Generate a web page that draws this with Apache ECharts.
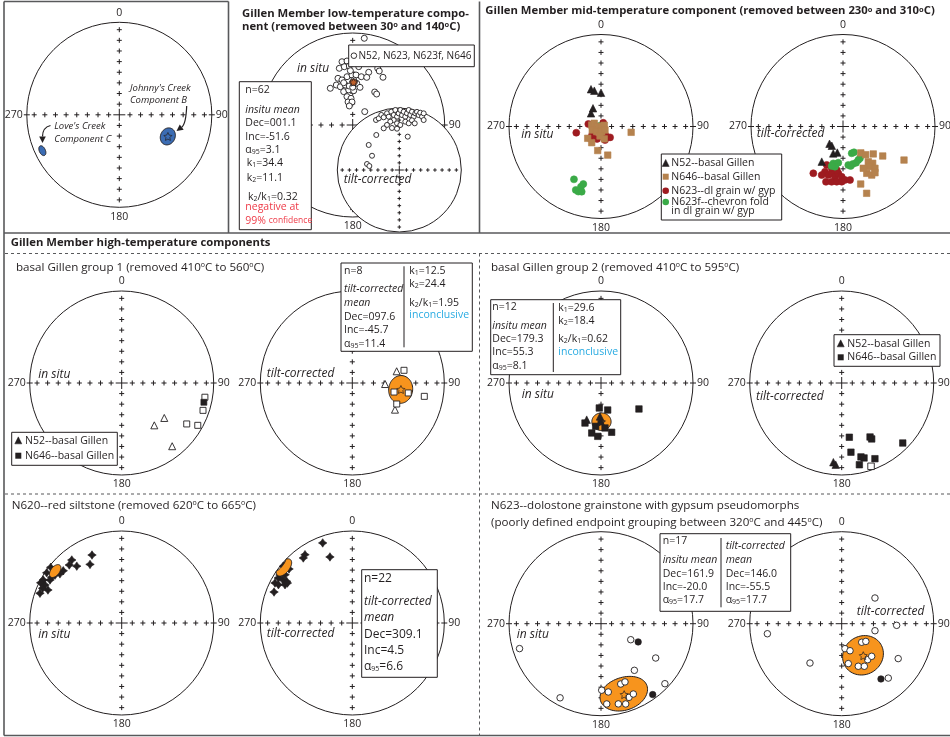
<!DOCTYPE html>
<html>
<head>
<meta charset="utf-8">
<script src="https://cdn.jsdelivr.net/npm/echarts@6/dist/echarts.min.js"></script>
<style>
  html, body { margin: 0; padding: 0; background: #fff; }
  #chart { width: 950px; height: 737px; }
</style>
</head>
<body>
<div id="chart"></div>
<script>
// ---------- Directions: [declination, inclination] (negative inclination = upper hemisphere) ----------

// Reference components
const johnnysCreekB = [114, 42, 7];      // dec, inc, a95
const lovesCreekC = [245, 9, 3.5];

// Low-temperature component
const lowTInSitu = [
  [7.6,-5.5],[350.4,-30.9],[354.9,-30.8],[346.7,-36.8],[351.8,-36.2],[356.7,-36.0],[3.9,-31.7],[5.9,-36.4],
  [16.9,-39.9],[23.8,-33.1],[26.2,-34.9],[342.5,-45.8],[346.6,-48.3],[353.3,-46.1],[359.2,-44.8],[3.8,-44.7],
  [10.1,-45.7],[16.4,-45.1],[32.4,-38.5],[328.6,-51.4],[337.7,-51.2],[342.1,-54],[349.5,-53.6],[5.5,-52.5],
  [11,-55.7],[344.9,-59.2],[353.5,-58.5],[1.7,-59.4],[33.7,-54.5],[37.7,-55],[348.6,-64.3],[356.4,-66.3],
  [348.6,-69.2],[358.3,-69.6],[349.9,-72.9],[42,-74.1],[357.5,-40.6],[1.3,-49.5],[348,-51.2],[355,-55],[0,-56.2]
];
const lowTTilt = [
  [335,-12],[338.3,-11.3],[341.9,-7.3],[343.5,-12.4],[347.8,-7.1],[348.8,-13.4],[352.2,-5.6],[354.2,-11.8],
  [356.2,-3.4],[357.5,-15],[359.4,-9.5],[1,-3.6],[2.8,-12.3],[4.3,-6.4],[6.4,-14.6],[7.7,-8.5],[8.9,-2.3],
  [11.3,-10.5],[12.3,-4.2],[15.1,-12],[15.8,-5.6],[16.9,-2.3],[19.4,-6.7],[20.1,-1.8],[23.1,-7.3],[23.3,-0.6],
  [353.6,-20],[357.2,-25.6],[349.4,-21.8],[344.7,-25.6],[339.5,-29],[7.1,-22.5],[11.4,-24.2],[14.3,-18.4],
  [1.3,-28.2],[18.3,-21.8],[26,-11.3],[350.1,-31.8],[356.8,-33.7],[326.7,-32.9],[14.2,-43.8],[309.3,-36.4],
  [297.6,-48.9],[280.5,-46],[277.6,-49.7]
];
const lowTInSituMean = [1.1, -51.6, 3.1];

// Mid-temperature component
const midInSituN52 = [[345,55.5],[349.4,57.5],[0,59.9],[336.3,72.4],[322.9,75.4]];
const midInSituN646 = [
  [279.2,81.7],[295.5,83.4],[266.5,87.1],[74,89.4],[70,86.9],[248.1,81.7],[219.6,84.1],[172.3,85.4],
  [131.2,85.3],[228.4,74.3],[209.9,73.5],[186,81.6],[165.2,78.7],[187.8,68.5],[166.8,63.9],[100.9,62.7]
];
const midInSituN623 = [[255.9,67.4],[281.1,78.6],[31.2,86.2],[140.2,77.5],[223,75.8],[163.5,77.5],[226.6,79.2],[152.2,80.5],[197.7,78.5]];
const midInSituN623f = [[207.1,35.7],[201.7,26.7],[199.2,26],[198.4,31.6],[197.1,34.9],[196.5,27],[238,85.8],[284,88.2]];
const midTiltN52 = [[218,70.6],[210.1,70.3],[199.9,64.6],[192.3,66.3],[211.2,53.2]];
const midTiltN646 = [
  [146,61.7],[141.2,57.7],[132.2,53.4],[126.6,45.3],[118.8,25.3],[144.3,51.1],[141.1,47.4],[146.8,46.7],
  [142.6,42.3],[153.1,42.4],[149.4,38.6],[145.3,38.8],[162.9,34.9],[160.5,24],[154.1,48.2]
];
const midTiltN623 = [
  [212.4,39.6],[203,52.6],[201.7,46.1],[196.9,44.2],[193.6,46.6],[189.1,44.1],[185.7,47.6],[181.5,44.6],
  [177.9,41.5],[172.5,41],[197.1,37.2],[191.6,38.6],[186.5,39.4],[181.3,39.8],[195.1,51.1],[188.2,50.5],[203.7,41.9]
];
const midTiltN623f = [
  [162,65],[156.9,65.1],[194.8,55.9],[190.6,55.9],[187.4,57.4],[191.3,53.3],[196,53.2],[172.2,55.2],
  [169,54],[165.5,55.3],[160.2,55.5],[155.5,57.1],[151.9,57.8]
];

// High-temperature, basal Gillen group 1
const grp1InSituN52 = [[142.4,-41.5],[129.4,-39.9],[141.4,-13.1]];
const grp1InSituN646 = [[122.2,-17.6],[119.1,-6],[108.6,-7.5],[99.7,-9.1],[103.2,9.1]];
const grp1TiltN52 = [[75.2,-48.7],[91.8,-60.8],[122,-44.5]];
const grp1TiltN646 = [[76.2,-41.7],[102.2,-51.7],[100.1,-38.2],[115.3,-45.6],[100.5,-21.5]];
const grp1TiltMean = [97.6, -45.7, 11.4];

// High-temperature, basal Gillen group 2
const grp2InSituN52 = [[201.3,54.8],[181.7,60.2],[180.8,56]];
const grp2InSituN646 = [[183.9,67.8],[166.1,65.3],[124.4,48.6],[201.8,51.3],[190.5,44],[183.5,41.5],[167.8,44.4],[174.9,49.4],[187,50.8]];
const grp2TiltN52 = [[186,14.5],[184.2,12]];
const grp2TiltN646 = [[172,40.2],[152.3,34.1],[151.8,31.6],[134.5,7.7],[172.4,25.1],[165.4,18.1],[163.4,16.1],[156.3,11.1],[167.8,10],[160.6,-4.5]];
const grp2InSituMean = [179.3, 55.3, 8.1];

// N620 red siltstone
const n620InSitu = [
  [336.4,20.5],[331.6,28.4],[321.6,13.7],[317.9,16.1],[321.7,22.3],[311.8,15.9],[308.1,2.2],[303.8,2.2],
  [298.7,3.2],[296.4,1.9],[296.4,7.7],[301,10],[303.1,10],[293.7,6.8],[290,6.1],[305.7,11.8],[294.1,13.2],[308.5,15.3]
];
const n620Tilt = [
  [339.7,8],[341.3,25.2],[325.3,10.6],[323,12.5],[309.4,3.3],[312.7,4.3],[306.2,5.5],[305.7,11],[301.3,6.5],
  [301.9,12],[302.4,16.6],[297.4,6],[297.4,10.5],[299.6,17],[301.6,18.3],[291.6,9.4],[303.6,6.3],[310.5,10.5]
];
const n620InSituMean = [308, 9, 5];
const n620TiltMean = [309.1, 4.5, 6.6];

// N623 dolostone grainstone
const n623InSitu = [
  [253,-8.2],[208.9,-8.8],[118.3,-59.9],[116.1,52.9],[122.1,-30.5],[144.4,-37.7],[133.2,-5.3],[179.4,-28.5],
  [173.9,-26.3],[175.9,-13.6],[161.9,-31.6],[157.6,-32.1],[159.2,-15.5],[155.3,-17],[167.8,-11.8],[162.9,-9.6],[143.9,5.2]
];
const n623Tilt = [
  [262.3,-19.6],[218.9,-44.3],[52.3,-52.3],[91.7,-40],[101.9,-59.7],[132.9,-65.8],[126.3,-63.4],[172.5,-67.7],
  [162.9,-64.9],[170.6,-53.8],[158.7,-48.9],[152,-46.5],[144.2,-50.1],[137.4,-50.2],[121.7,-28.6],[139.4,-23.2],[144.6,27.2]
];
const n623InSituMean = [161.9, -20.0, 17.7];
const n623TiltMean = [146.0, -55.5, 17.7];

// Axis labels around each net
const angleTicks = [0, 90, 180, 270];

// ---------- Styling ----------
const FONT = '"Open Sans", "Liberation Sans", sans-serif';
const INK = '#231f20';
const ORANGE = '#f7941d';
const BROWN = '#b5824e';
const DKRED = '#9e1b20';
const GREEN = '#3aaa47';
const BLUE = '#3b6cb3';
const CYAN = '#29abe2';
const RED = '#ee3b48';
const TICK_STEP = 0.115;
const STAR = 'path://M0,-10 L2.9,-4 L9.5,-3.1 L4.7,1.5 L5.9,8.1 L0,5 L-5.9,8.1 L-4.7,1.5 L-9.5,-3.1 L-2.9,-4 Z';
const SPARK = 'path://M0,-10 L4,-4 L10,0 L4,4 L0,10 L-4,4 L-10,0 L-4,-4 Z';

// Stereonet layout (equal-area, lower hemisphere)
const nets = [
  { id: 'A', c: [119.3, 114.8], R: 92.5 },
  { id: 'B', c: [352.7, 125], R: 92, hide: [0, 270] },
  { id: 'C', c: [399.3, 170], R: 62, hide: [0, 90, 180, 270], small: true },
  { id: 'D', c: [601, 126.5], R: 92 },
  { id: 'E', c: [843, 126.5], R: 92 },
  { id: 'F', c: [121.7, 383], R: 92 },
  { id: 'G', c: [352.3, 383], R: 92 },
  { id: 'H', c: [601, 383], R: 92 },
  { id: 'I', c: [841.7, 383], R: 92 },
  { id: 'J', c: [121.7, 623], R: 92 },
  { id: 'K', c: [352.3, 623], R: 92 },
  { id: 'L', c: [601, 623.7], R: 92, hide: [0] },
  { id: 'M', c: [841.7, 623.7], R: 92 }
];
const idx = {};
nets.forEach((n, i) => { idx[n.id] = i; });

const DEG = Math.PI / 180;
// Lambert equal-area radial distance, 1 at the primitive
const eqArea = inc => Math.SQRT2 * Math.sin((90 - Math.abs(inc)) * DEG / 2);

// Small circle of angular radius a around (dec, inc)
function smallCircle(dec, inc, a) {
  const D = dec * DEG, I = inc * DEG, A = a * DEG;
  const m = [Math.cos(I) * Math.cos(D), Math.cos(I) * Math.sin(D), Math.sin(I)];
  const u = [-Math.sin(I) * Math.cos(D), -Math.sin(I) * Math.sin(D), Math.cos(I)];
  const v = [-Math.sin(D), Math.cos(D), 0];
  const out = [];
  for (let k = 0; k < 72; k++) {
    const t = k * 5 * DEG;
    const p = [0, 1, 2].map(j => Math.cos(A) * m[j] + Math.sin(A) * (Math.cos(t) * u[j] + Math.sin(t) * v[j]));
    const ii = Math.asin(Math.max(-1, Math.min(1, p[2]))) / DEG;
    let dd = Math.atan2(p[1], p[0]) / DEG;
    if (dd < 0) dd += 360;
    out.push([dd, ii]);
  }
  return out;
}

function renderTick(params, api) {
  const p = api.coord([api.value(0), api.value(1)]);
  const s = api.value(2), mode = api.value(3);
  const st = { stroke: INK, lineWidth: 1 };
  const kids = [{ type: 'line', shape: { x1: p[0] - s, y1: p[1], x2: p[0] + s, y2: p[1] }, style: st }];
  if (mode === 0) kids.push({ type: 'line', shape: { x1: p[0], y1: p[1] - s, x2: p[0], y2: p[1] + s }, style: st });
  return { type: 'group', children: kids };
}

function renderCone(params, api) {
  const pts = smallCircle(api.value(1), api.value(2), api.value(3)).map(([d, i]) => api.coord([eqArea(i), d]));
  return { type: 'polygon', shape: { points: pts }, style: { fill: api.visual('color'), stroke: INK, lineWidth: 1 } };
}

function renderDisc(params, api) {
  const c = api.coord([0, 0]);
  const e = api.coord([1, 90]);
  return { type: 'circle', shape: { cx: c[0], cy: c[1], r: e[0] - c[0] }, style: { fill: '#fff', stroke: INK, lineWidth: 1 } };
}

const series = [];

function addTicks(id, z) {
  const n = nets[idx[id]];
  const s = n.small ? 1.8 : 2.5, cen = n.small ? 4.5 : 6;
  const d = [[0, 0, cen, 0]];
  angleTicks.forEach(a => {
    for (let k = 1; k <= 8; k++) d.push([k * TICK_STEP, a, s, 0]);
    if (!n.small && (a === 90 || a === 270)) d.push([1, a, 3, 1]);
  });
  series.push({ type: 'custom', coordinateSystem: 'polar', polarIndex: idx[id], renderItem: renderTick, data: d, z, silent: true });
}

function addPoints(id, arr, o) {
  series.push({
    type: 'scatter', coordinateSystem: 'polar', polarIndex: idx[id], symbol: o.symbol, symbolSize: o.size,
    z: o.z || 4, silent: true,
    itemStyle: { color: o.color, borderColor: o.stroke || o.color, borderWidth: o.bw == null ? 0.6 : o.bw, opacity: 1 },
    data: arr.map(([d, inc]) => ({
      value: [eqArea(inc), d],
      itemStyle: inc < 0 ? { color: '#fff', borderColor: INK, borderWidth: 0.9 } : undefined
    }))
  });
}

function addCone(id, mean, color, z) {
  series.push({
    type: 'custom', coordinateSystem: 'polar', polarIndex: idx[id], renderItem: renderCone, z: z || 3, silent: true,
    itemStyle: { color }, data: [[eqArea(mean[1]), mean[0], mean[1], mean[2]]]
  });
}

function addStar(id, mean, fill, z) {
  series.push({
    type: 'scatter', coordinateSystem: 'polar', polarIndex: idx[id], symbol: STAR, symbolSize: 8, z: z || 5, silent: true,
    itemStyle: { color: fill, borderColor: INK, borderWidth: 0.9 },
    data: [[eqArea(mean[1]), mean[0]]]
  });
}

// Panel: reference components
addTicks('A', 2);
addCone('A', johnnysCreekB, BLUE, 3);
addCone('A', lovesCreekC, BLUE, 3);
addStar('A', johnnysCreekB, 'rgba(0,0,0,0)', 5);

// Low-temperature: in situ underneath, tilt-corrected net laid over it
addTicks('B', 1);
addPoints('B', lowTInSitu, { symbol: 'circle', size: 6, color: INK, z: 2 });
addCone('B', lowTInSituMean, '#c0602a', 3);
addStar('B', lowTInSituMean, 'rgba(0,0,0,0)', 3.5);
series.push({ type: 'custom', coordinateSystem: 'polar', polarIndex: idx.C, renderItem: renderDisc, data: [[0, 0]], z: 5, silent: true });
addTicks('C', 6);
addPoints('C', lowTTilt, { symbol: 'circle', size: 5, color: INK, z: 7 });

// Mid-temperature
[['D', midInSituN623, midInSituN646, midInSituN623f, midInSituN52],
 ['E', midTiltN623, midTiltN646, midTiltN623f, midTiltN52]].forEach(([id, red, brown, green, tri]) => {
  addTicks(id, 2);
  addPoints(id, red, { symbol: 'circle', size: 7, color: DKRED, z: 4 });
  addPoints(id, green, { symbol: 'circle', size: 7, color: GREEN, z: 4.1 });
  addPoints(id, brown, { symbol: 'rect', size: 6.5, color: BROWN, z: 4.2 });
  addPoints(id, tri, { symbol: 'triangle', size: 7.5, color: INK, z: 4.3 });
});

// High-temperature group 1
addTicks('F', 2);
addPoints('F', grp1InSituN52, { symbol: 'triangle', size: 7, color: INK });
addPoints('F', grp1InSituN646, { symbol: 'rect', size: 6, color: INK });
addTicks('G', 2);
addCone('G', grp1TiltMean, ORANGE, 3);
addPoints('G', grp1TiltN52, { symbol: 'triangle', size: 7, color: INK });
addPoints('G', grp1TiltN646, { symbol: 'rect', size: 6, color: INK });
addStar('G', grp1TiltMean, 'rgba(0,0,0,0)', 5);

// High-temperature group 2
addTicks('H', 2);
addCone('H', grp2InSituMean, ORANGE, 3);
addPoints('H', grp2InSituN646, { symbol: 'rect', size: 6.5, color: INK });
addPoints('H', grp2InSituN52, { symbol: 'triangle', size: 7.5, color: INK });
addStar('H', grp2InSituMean, INK, 5);
addTicks('I', 2);
addPoints('I', grp2TiltN646, { symbol: 'rect', size: 6.5, color: INK });
addPoints('I', grp2TiltN52, { symbol: 'triangle', size: 7.5, color: INK });

// N620
addTicks('J', 2);
addPoints('J', n620InSitu, { symbol: SPARK, size: 8.5, color: INK });
addCone('J', n620InSituMean, ORANGE, 4.5);
addTicks('K', 2);
addPoints('K', n620Tilt, { symbol: SPARK, size: 8.5, color: INK });
addCone('K', n620TiltMean, ORANGE, 4.5);

// N623
addTicks('L', 2);
addCone('L', n623InSituMean, ORANGE, 3);
addPoints('L', n623InSitu, { symbol: 'circle', size: 6.5, color: INK });
addStar('L', n623InSituMean, 'rgba(0,0,0,0)', 5);
addTicks('M', 2);
addCone('M', n623TiltMean, ORANGE, 3);
addPoints('M', n623Tilt, { symbol: 'circle', size: 6.5, color: INK });
addStar('M', n623TiltMean, 'rgba(0,0,0,0)', 5);

// ---------- Text, boxes and frame ----------
const RICH = {
  sub: { fontFamily: FONT, fontSize: 7, verticalAlign: 'bottom', fill: INK },
  sup: { fontFamily: FONT, fontSize: 7, verticalAlign: 'top', fill: INK },
  supb: { fontFamily: FONT, fontSize: 7.5, fontWeight: 'bold', verticalAlign: 'top', fill: INK },
  smred: { fontFamily: FONT, fontSize: 8.5, fill: RED }
};
const T = (x, y, text, o) => ({
  type: 'text', x, y, z: 101, silent: true,
  style: Object.assign({ text, fontFamily: FONT, fontSize: 10.5, fill: INK, align: 'left', verticalAlign: 'middle', rich: RICH }, o || {})
});
const IT = (x, y, text, size) => T(x, y, text, { fontStyle: 'italic', fontSize: size || 12 });
const BOLD = (x, y, text) => T(x, y, text, { fontWeight: 'bold', fontSize: 11.3 });
const SUBT = (x, y, text) => T(x, y, text, { fontSize: 11.6 });
const BOX = (x, y, w, h) => ({ type: 'rect', z: 100, silent: true, shape: { x, y, width: w, height: h }, style: { fill: '#fff', stroke: INK, lineWidth: 1 } });
const LINE = (x1, y1, x2, y2, o) => ({ type: 'line', z: 102, silent: true, shape: { x1, y1, x2, y2 }, style: Object.assign({ stroke: INK, lineWidth: 1 }, o || {}) });
const TRI = (x, y, s, fill) => ({ type: 'polygon', z: 101, silent: true, shape: { points: [[x, y - s * 0.55], [x + s * 0.5, y + s * 0.45], [x - s * 0.5, y + s * 0.45]] }, style: { fill: fill || INK, stroke: INK, lineWidth: 0.5 } });
const SQ = (x, y, s, fill) => ({ type: 'rect', z: 101, silent: true, shape: { x: x - s / 2, y: y - s / 2, width: s, height: s }, style: { fill: fill || INK } });
const DOT = (x, y, r, fill, stroke) => ({ type: 'circle', z: 101, silent: true, shape: { cx: x, cy: y, r }, style: { fill, stroke: stroke || null, lineWidth: 0.9 } });

function arrow(x1, y1, cx, cy, x2, y2) {
  const dx = x2 - cx, dy = y2 - cy, L = Math.hypot(dx, dy);
  const ux = dx / L, uy = dy / L;
  const bx = x2 - ux * 6.5, by = y2 - uy * 6.5;
  return [
    { type: 'bezierCurve', z: 100, silent: true, shape: { x1, y1, cpx1: cx, cpy1: cy, x2: bx, y2: by }, style: { stroke: INK, lineWidth: 1.2, fill: null } },
    { type: 'polygon', z: 100, silent: true, shape: { points: [[x2, y2], [bx - uy * 3.3, by + ux * 3.3], [bx + uy * 3.3, by - ux * 3.3]] }, style: { fill: INK } }
  ];
}

const FRAME = '#58595b';
const dash = { stroke: FRAME, lineWidth: 1, lineDash: [3, 3] };
const solid = { stroke: FRAME, lineWidth: 1.6 };

const graphic = [
  // frame and panel rules
  LINE(4, 1.5, 228.5, 1.5, solid), LINE(4, 1.5, 4, 735.5, solid), LINE(4, 735.5, 950, 735.5, solid),
  LINE(228.5, 1.5, 228.5, 233, solid), LINE(479.5, 1.5, 479.5, 233, solid), LINE(4, 233, 950, 233, solid),
  LINE(5, 253.5, 950, 253.5, dash), LINE(479.5, 253.5, 479.5, 735, dash), LINE(5, 494, 950, 494, dash),

  // reference components
  IT(130, 88.3, "Johnny's Creek", 9.5), IT(130, 100, 'Component B', 9.5),
  IT(54.3, 126.7, "Love's Creek", 9.5), IT(54.3, 139.3, 'Component C', 9.5),
  ...arrow(186.7, 106, 186, 124, 176.5, 131),
  ...arrow(50.5, 125.5, 42.5, 127.5, 42.5, 143),

  // low-temperature panel
  BOLD(242, 13.3, 'Gillen Member low-temperature compo-'),
  BOLD(242, 26.7, 'nent (removed between 30{supb|o} and 140{supb|o}C)'),
  IT(297, 68.3, 'in situ'),
  BOX(348.7, 45, 125.6, 21.7), DOT(353.9, 55.7, 2.8, '#fff', INK), T(358.5, 55.7, 'N52, N623, N623f, N646', { fontSize: 10.1 }),
  BOX(239.3, 81.7, 72, 148),
  T(245.3, 90, 'n=62'), IT(245.3, 110, 'insitu mean', 10.5), T(245.3, 123.3, 'Dec=001.1'), T(245.3, 136.7, 'Inc=-51.6'),
  T(245.3, 150, '\u03b1{sub|95}=3.1'), T(246.7, 163.3, 'k{sub|1}=34.4'), T(246.7, 178.3, 'k{sub|2}=11.1'),
  T(248, 196.7, 'k{sub|2}/k{sub|1}=0.32'), T(245.3, 207, 'negative at', { fill: RED }), T(245.3, 220.7, '99% {smred|confidence}', { fill: RED }),
  IT(343.7, 180, 'tilt-corrected'),

  // mid-temperature panel
  BOLD(485.3, 11, 'Gillen Member mid-temperature component (removed between 230{supb|o} and 310{supb|o}C)'),
  IT(521.3, 135, 'in situ'), IT(756.7, 133.3, 'tilt-corrected'),
  BOX(661.3, 154, 120.4, 66),
  TRI(665.7, 163.3, 7), T(671.3, 163.3, 'N52--basal Gillen'),
  SQ(665.7, 176.7, 6, BROWN), T(671.3, 176.7, 'N646--basal Gillen'),
  DOT(665.7, 190.7, 3.3, DKRED), T(671.3, 190.7, 'N623--dl grain w/ gyp'),
  DOT(665.7, 202, 3.3, GREEN), T(671.3, 202, 'N623f--chevron fold'), T(671.3, 211.3, 'in dl grain w/ gyp'),

  // high-temperature header
  BOLD(10.7, 243, 'Gillen Member high-temperature components'),

  // group 1
  SUBT(16, 267.3, 'basal Gillen group 1 (removed 410{sup|o}C to 560{sup|o}C)'),
  IT(38.3, 374.7, 'in situ'),
  BOX(11.7, 432.3, 105.6, 33),
  TRI(18.3, 440.7, 7), T(25, 440.7, 'N52--basal Gillen'),
  SQ(18.3, 455.7, 6), T(25, 455.7, 'N646--basal Gillen'),
  IT(266.7, 373.7, 'tilt-corrected'),
  BOX(341, 263, 131.3, 88.3), LINE(404, 266.3, 404, 347.3),
  T(344, 270.7, 'n=8'), IT(344, 288.7, 'tilt-corrected', 10.5), IT(344, 302.7, 'mean', 10.5),
  T(344, 316.7, 'Dec=097.6'), T(344, 329.7, 'Inc=-45.7'), T(344, 343.7, '\u03b1{sub|95}=11.4'),
  T(409.3, 270.7, 'k{sub|1}=12.5'), T(409.3, 283.7, 'k{sub|2}=24.4'), T(409.3, 302.7, 'k{sub|2}/k{sub|1}=1.95'),
  T(409.3, 315.3, 'inconclusive', { fill: CYAN }),

  // group 2
  SUBT(491, 267.3, 'basal Gillen group 2 (removed 410{sup|o}C to 595{sup|o}C)'),
  IT(521.7, 394.7, 'in situ'),
  BOX(490.7, 299.7, 130, 75), LINE(553.3, 303, 553.3, 372),
  T(492.3, 307, 'n=12'), IT(492.3, 325.7, 'insitu mean', 10.5), T(492.3, 339, 'Dec=179.3'), T(492.3, 352.3, 'Inc=55.3'),
  T(492.3, 365.7, '\u03b1{sub|95}=8.1'),
  T(558.3, 308, 'k{sub|1}=29.6'), T(558.3, 320.7, 'k{sub|2}=18.4'), T(558.3, 338.7, 'k{sub|2}/k{sub|1}=0.62'),
  T(558.3, 352.3, 'inconclusive', { fill: CYAN }),
  IT(756, 397, 'tilt-corrected'),
  BOX(834, 334.7, 106, 31.6),
  TRI(840.7, 343.7, 7), T(847.3, 343.7, 'N52--basal Gillen'),
  SQ(840.7, 357.3, 6), T(847.3, 357.3, 'N646--basal Gillen'),

  // N620
  SUBT(11.7, 505.7, 'N620--red siltstone (removed 620{sup|o}C to 665{sup|o}C)'),
  IT(38.3, 634.7, 'in situ'), IT(266.7, 633.7, 'tilt-corrected'),
  BOX(361.7, 569.7, 75.6, 107.6),
  T(364, 578.7, 'n=22', { fontSize: 12 }), IT(364, 602, 'tilt-corrected', 12), IT(364, 617.3, 'mean', 12),
  T(364, 634.7, 'Dec=309.1', { fontSize: 12 }), T(364, 650.7, 'Inc=4.5', { fontSize: 12 }),
  T(364, 666.3, '\u03b1{sub|95}=6.6', { fontSize: 12 }),

  // N623
  SUBT(491, 505.3, 'N623--dolostone grainstone with gypsum pseudomorphs'),
  SUBT(491, 522.3, '(poorly defined endpoint grouping between 320{sup|o}C and 445{sup|o}C)'),
  IT(516.7, 634.7, 'in situ'), IT(856.7, 612, 'tilt-corrected'),
  BOX(660, 533.7, 130.7, 77.6), LINE(721, 538, 721, 607.3),
  T(662.7, 541.3, 'n=17'), IT(662.7, 560.3, 'insitu mean', 10.5), T(662.7, 573.7, 'Dec=161.9'), T(662.7, 587, 'Inc=-20.0'),
  T(662.7, 600.3, '\u03b1{sub|95}=17.7'),
  IT(725.7, 546.3, 'tilt-corrected', 10.5), IT(725.7, 560.3, 'mean', 10.5), T(725.7, 573.7, 'Dec=146.0'),
  T(725.7, 587, 'Inc=-55.5'), T(725.7, 600.3, '\u03b1{sub|95}=17.7')
];

const option = {
  animation: false,
  textStyle: { fontFamily: FONT },
  polar: nets.map(n => ({ center: n.c, radius: n.R })),
  angleAxis: nets.map((n, i) => ({
    polarIndex: i, type: 'value', min: 0, max: 360, interval: 90, startAngle: 90, clockwise: true,
    axisLine: { show: !n.small, lineStyle: { color: INK, width: 1 } },
    axisTick: { show: false }, splitLine: { show: false },
    axisLabel: {
      margin: 4, fontFamily: FONT, fontSize: 10.5, color: INK,
      formatter: v => (v === 360 || (n.hide || []).includes(v)) ? '' : String(v)
    }
  })),
  radiusAxis: nets.map((n, i) => ({ polarIndex: i, type: 'value', min: 0, max: 1, show: false })),
  series,
  graphic
};

const chart = echarts.init(document.getElementById('chart'), null, { renderer: 'canvas' });
chart.setOption(option);
</script>
</body>
</html>
